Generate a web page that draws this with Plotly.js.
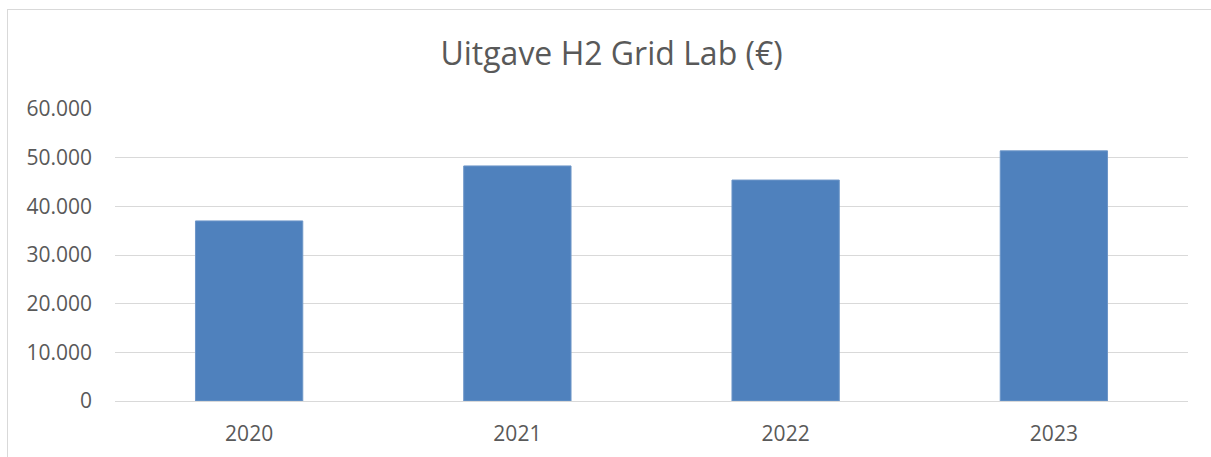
<!DOCTYPE html>
<html>
<head>
<meta charset="utf-8">
<script src="https://cdn.plot.ly/plotly-3.0.1.min.js"></script>
<style>
html,body{margin:0;padding:0;background:#fff;}
#wrap{position:relative;width:1211px;height:457px;overflow:hidden;}
#chart{width:1211px;height:457px;}
#frame{position:absolute;left:7px;top:9px;width:1230px;height:480px;border:1px solid #d9d9d9;pointer-events:none;box-sizing:border-box;}
</style>
</head>
<body>
<div id="wrap">
<div id="chart"></div>
<div id="frame"></div>
</div>
<script>
const years = ['2020', '2021', '2022', '2023'];
const uitgave = [37000, 48300, 45400, 51400];
const yTicks = [0, 10000, 20000, 30000, 40000, 50000, 60000];

const textColor = '#595959';
const font = 'Open Sans, sans-serif';

Plotly.newPlot('chart', [{
  type: 'bar',
  x: years,
  y: uitgave,
  marker: {color: '#4f81bd', line: {color: '#6d96c8', width: 1}},
  hoverinfo: 'x+y'
}], {
  width: 1211,
  height: 457,
  margin: {l: 115, r: 23, t: 109, b: 56, pad: 0},
  paper_bgcolor: '#ffffff',
  plot_bgcolor: '#ffffff',
  separators: ',.',
  bargap: 0.6,
  showlegend: false,
  font: {family: font, color: textColor, size: 21},
  title: {
    text: 'Uitgave H2 Grid Lab (€)',
    font: {family: font, size: 32, color: textColor},
    xref: 'container', x: 0.505, xanchor: 'center',
    yref: 'container', y: 1 - 54/457, yanchor: 'middle'
  },
  xaxis: {
    type: 'category',
    tickfont: {family: font, size: 21, color: textColor},
    showgrid: false,
    showline: true,
    linecolor: '#d9d9d9',
    linewidth: 1,
    ticks: '',
    ticklabelstandoff: 14,
    fixedrange: true
  },
  yaxis: {
    range: [0, 60000],
    tickvals: yTicks,
    tickformat: ',d',
    tickfont: {family: font, size: 21, color: textColor},
    showgrid: true,
    gridcolor: '#d9d9d9',
    gridwidth: 1,
    zeroline: false,
    showline: false,
    ticks: '',
    ticklabelstandoff: 22,
    fixedrange: true
  }
}, {displayModeBar: false, staticPlot: true});
</script>
</body>
</html>
